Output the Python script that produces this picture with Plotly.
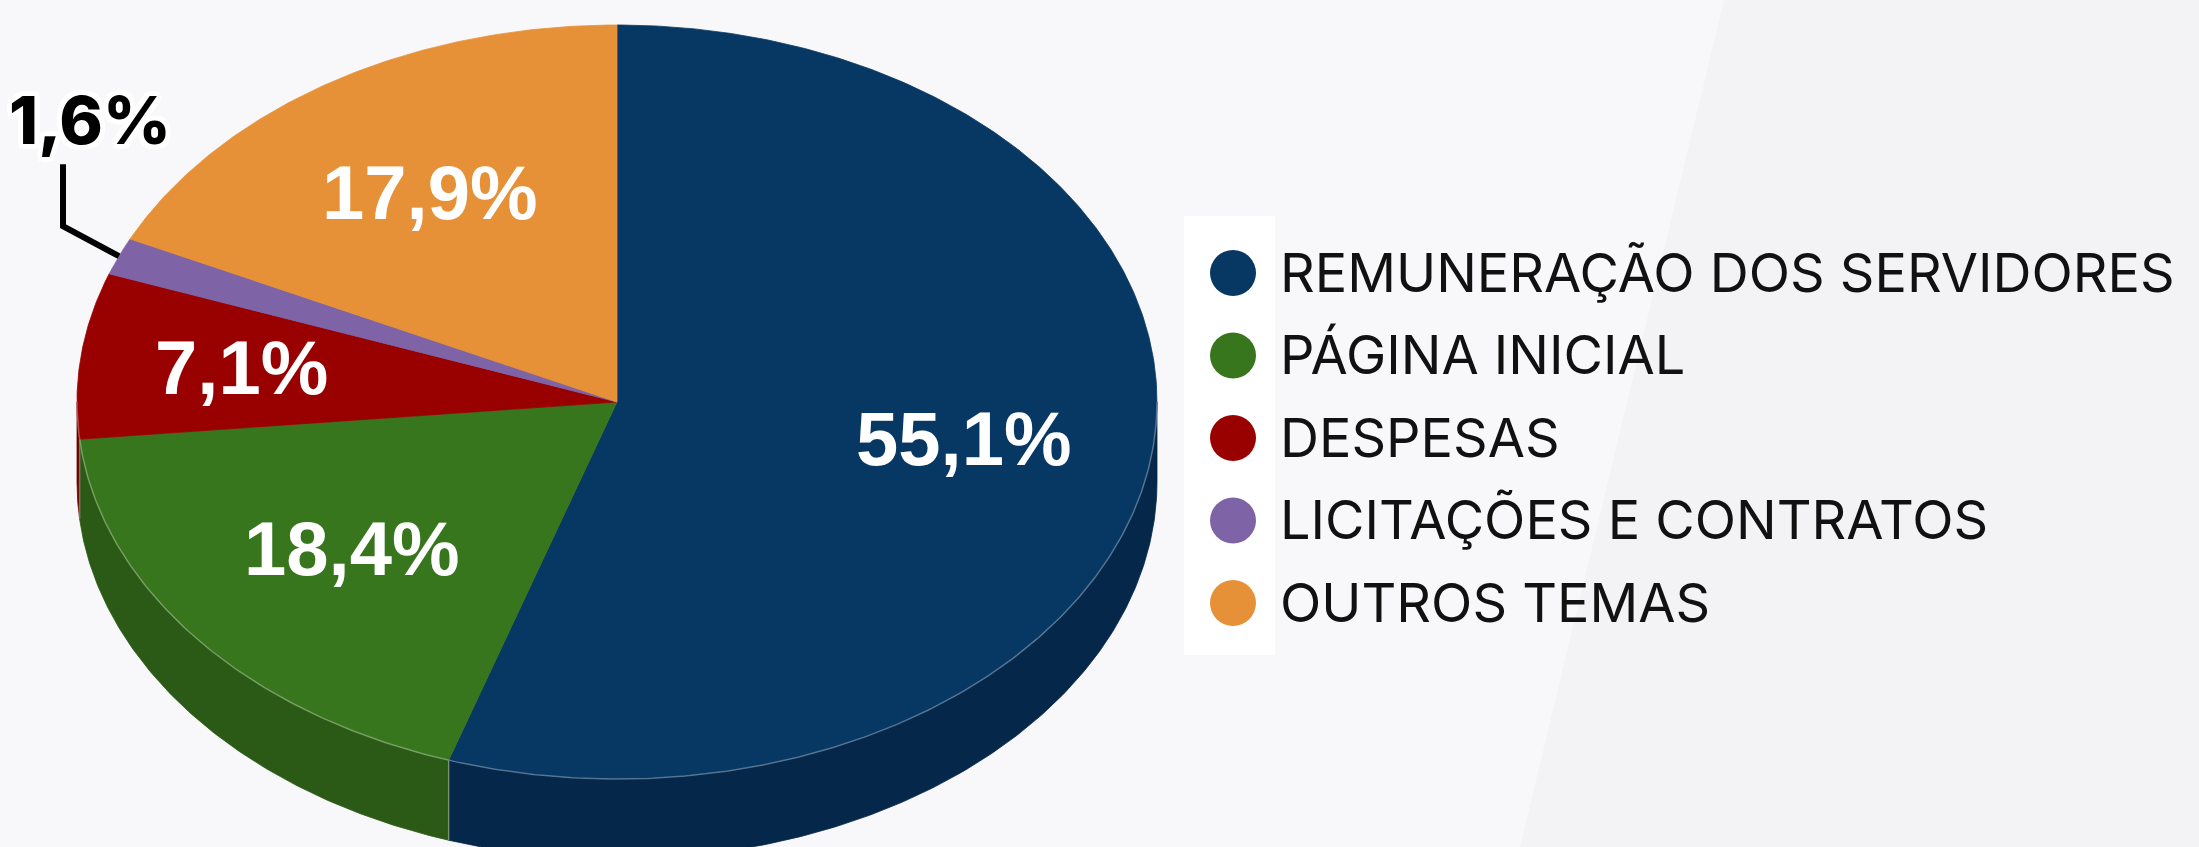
import numpy as np
import plotly.graph_objects as go

# ---- data -------------------------------------------------------------
categories = [
    "REMUNERAÇÃO DOS SERVIDORES",
    "PÁGINA INICIAL",
    "DESPESAS",
    "LICITAÇÕES E CONTRATOS",
    "OUTROS TEMAS",
]
shares = [55.1, 18.4, 7.1, 1.6, 17.9]
share_labels = ["55,1%", "18,4%", "7,1%", "1,6%", "17,9%"]

# ---- styling ----------------------------------------------------------
top_colors = ["#073763", "#38761D", "#990000", "#7E63A6", "#E69138"]
side_colors = ["#052749", "#2B5A16", "#6E0000", "#5A4680", "#A9692A"]
label_radius = [0.65, 0.63, 0.70, None, 0.65]   # None -> outside label

W, H = 2199, 847
CX, CY = 617, 402          # pie centre (px)
RX, RY = 540, 377          # ellipse radii of the top face
DEPTH = 80                 # thickness of the 3-D rim
BG = "#F3F3F5"


def pt(theta, r=1.0, dz=0.0):
    """Point on the tilted pie; theta in degrees, clockwise from 12 o'clock."""
    t = np.radians(theta)
    return CX + r * RX * np.sin(t), CY - r * RY * np.cos(t) + dz


def arc(a0, a1, dz=0.0, n=None):
    n = n or max(int(abs(a1 - a0) * 2) + 2, 3)
    th = np.linspace(a0, a1, n)
    xs, ys = pt(th, 1.0, dz)
    return list(xs), list(ys)


total = sum(shares)
bounds = np.concatenate([[0.0], np.cumsum(shares) / total * 360.0])

fig = go.Figure()

# rim (front half of the pie, 90..270 deg)
for i in range(len(shares)):
    s0, s1 = max(bounds[i], 90.0), min(bounds[i + 1], 270.0)
    if s1 <= s0:
        continue
    tx, ty = arc(s0, s1)
    bx, by = arc(s1, s0, DEPTH)
    fig.add_trace(go.Scatter(
        x=tx + bx + [tx[0]], y=ty + by + [ty[0]],
        mode="lines", fill="toself", fillcolor=side_colors[i],
        line=dict(color=side_colors[i], width=0.8),
        hoverinfo="skip", showlegend=False))

# thin light seams on the rim where slices meet
for b in bounds[1:-1]:
    if 90.0 < b < 270.0:
        x0, y0 = pt(b)
        x1, y1 = pt(b, 1.0, DEPTH)
        fig.add_trace(go.Scatter(
            x=[x0, x1], y=[y0, y1], mode="lines",
            line=dict(color="rgba(255,255,255,0.35)", width=1.5),
            hoverinfo="skip", showlegend=False))

# top faces
for i in range(len(shares)):
    ax, ay = arc(bounds[i], bounds[i + 1])
    fig.add_trace(go.Scatter(
        x=[CX] + ax + [CX], y=[CY] + ay + [CY],
        mode="lines", fill="toself", fillcolor=top_colors[i],
        line=dict(color=top_colors[i], width=0.8),
        hoverinfo="skip", showlegend=False, name=categories[i]))

# light rim edge along the front of the top face
ex, ey = arc(90.0, 270.0)
fig.add_trace(go.Scatter(
    x=ex, y=ey, mode="lines",
    line=dict(color="rgba(255,255,255,0.30)", width=1.5),
    hoverinfo="skip", showlegend=False))

annotations = []

# in-slice percentage labels
for i, lab in enumerate(share_labels):
    mid = (bounds[i] + bounds[i + 1]) / 2.0
    if label_radius[i] is not None:
        lx, ly = pt(mid, label_radius[i])
        annotations.append(dict(
            x=lx, y=ly - 2, xref="x", yref="y", text=lab, showarrow=False,
            xanchor="center", yanchor="middle",
            font=dict(family="Liberation Sans, Arial", size=76,
                      color="white", weight="bold")))
    else:
        # outside label with an elbow leader line
        px, py = pt(mid)
        elbow = (px - 56, py - 30)
        top = (elbow[0], elbow[1] - 62)
        fig.add_trace(go.Scatter(
            x=[px, elbow[0], top[0]], y=[py, elbow[1], top[1]],
            mode="lines", line=dict(color="black", width=6),
            hoverinfo="skip", showlegend=False))
        outline = ", ".join(f"{dx}px {dy}px 0 #ffffff" for dx, dy in
                            [(5, 0), (-5, 0), (0, 5), (0, -5),
                             (4, 4), (-4, -4), (4, -4), (-4, 4)])
        annotations.append(dict(
            x=top[0] + 27, y=top[1] - 44, xref="x", yref="y", text=lab,
            showarrow=False, xanchor="center", yanchor="middle",
            font=dict(family="Inter", size=66, color="black",
                      weight=800, shadow=outline)))

# legend
LEG_X, LEG_Y0, LEG_STEP = 1233, 273, 82.5
leg_y = [LEG_Y0 + k * LEG_STEP for k in range(len(categories))]
fig.add_trace(go.Scatter(
    x=[LEG_X] * len(categories), y=leg_y, mode="markers",
    marker=dict(size=46, color=top_colors, line=dict(width=0)),
    hoverinfo="skip", showlegend=False))
for name, y in zip(categories, leg_y):
    annotations.append(dict(
        x=LEG_X + 45, y=y - 1, xref="x", yref="y", text=name,
        showarrow=False, xanchor="left", yanchor="middle",
        font=dict(family="Inter", size=54, color="#111111", weight=400)))

shapes = [
    # soft background facet
    dict(type="path", path=f"M0,0 L1724,0 L1520,{H} L0,{H} Z",
         xref="x", yref="y", fillcolor="#F8F8FA", line=dict(width=0),
         layer="below"),
    # white strip behind the legend markers
    dict(type="rect", x0=1184, x1=1275, y0=216, y1=655,
         xref="x", yref="y", fillcolor="#FFFFFF", line=dict(width=0),
         layer="below"),
]

fig.update_layout(
    width=W, height=H,
    margin=dict(l=0, r=0, t=0, b=0),
    paper_bgcolor=BG, plot_bgcolor="rgba(0,0,0,0)",
    xaxis=dict(range=[0, W], visible=False, fixedrange=True),
    yaxis=dict(range=[H, 0], visible=False, fixedrange=True),
    showlegend=False,
    annotations=annotations,
    shapes=shapes,
)

fig.write_html("out.html", config={"displayModeBar": False})
